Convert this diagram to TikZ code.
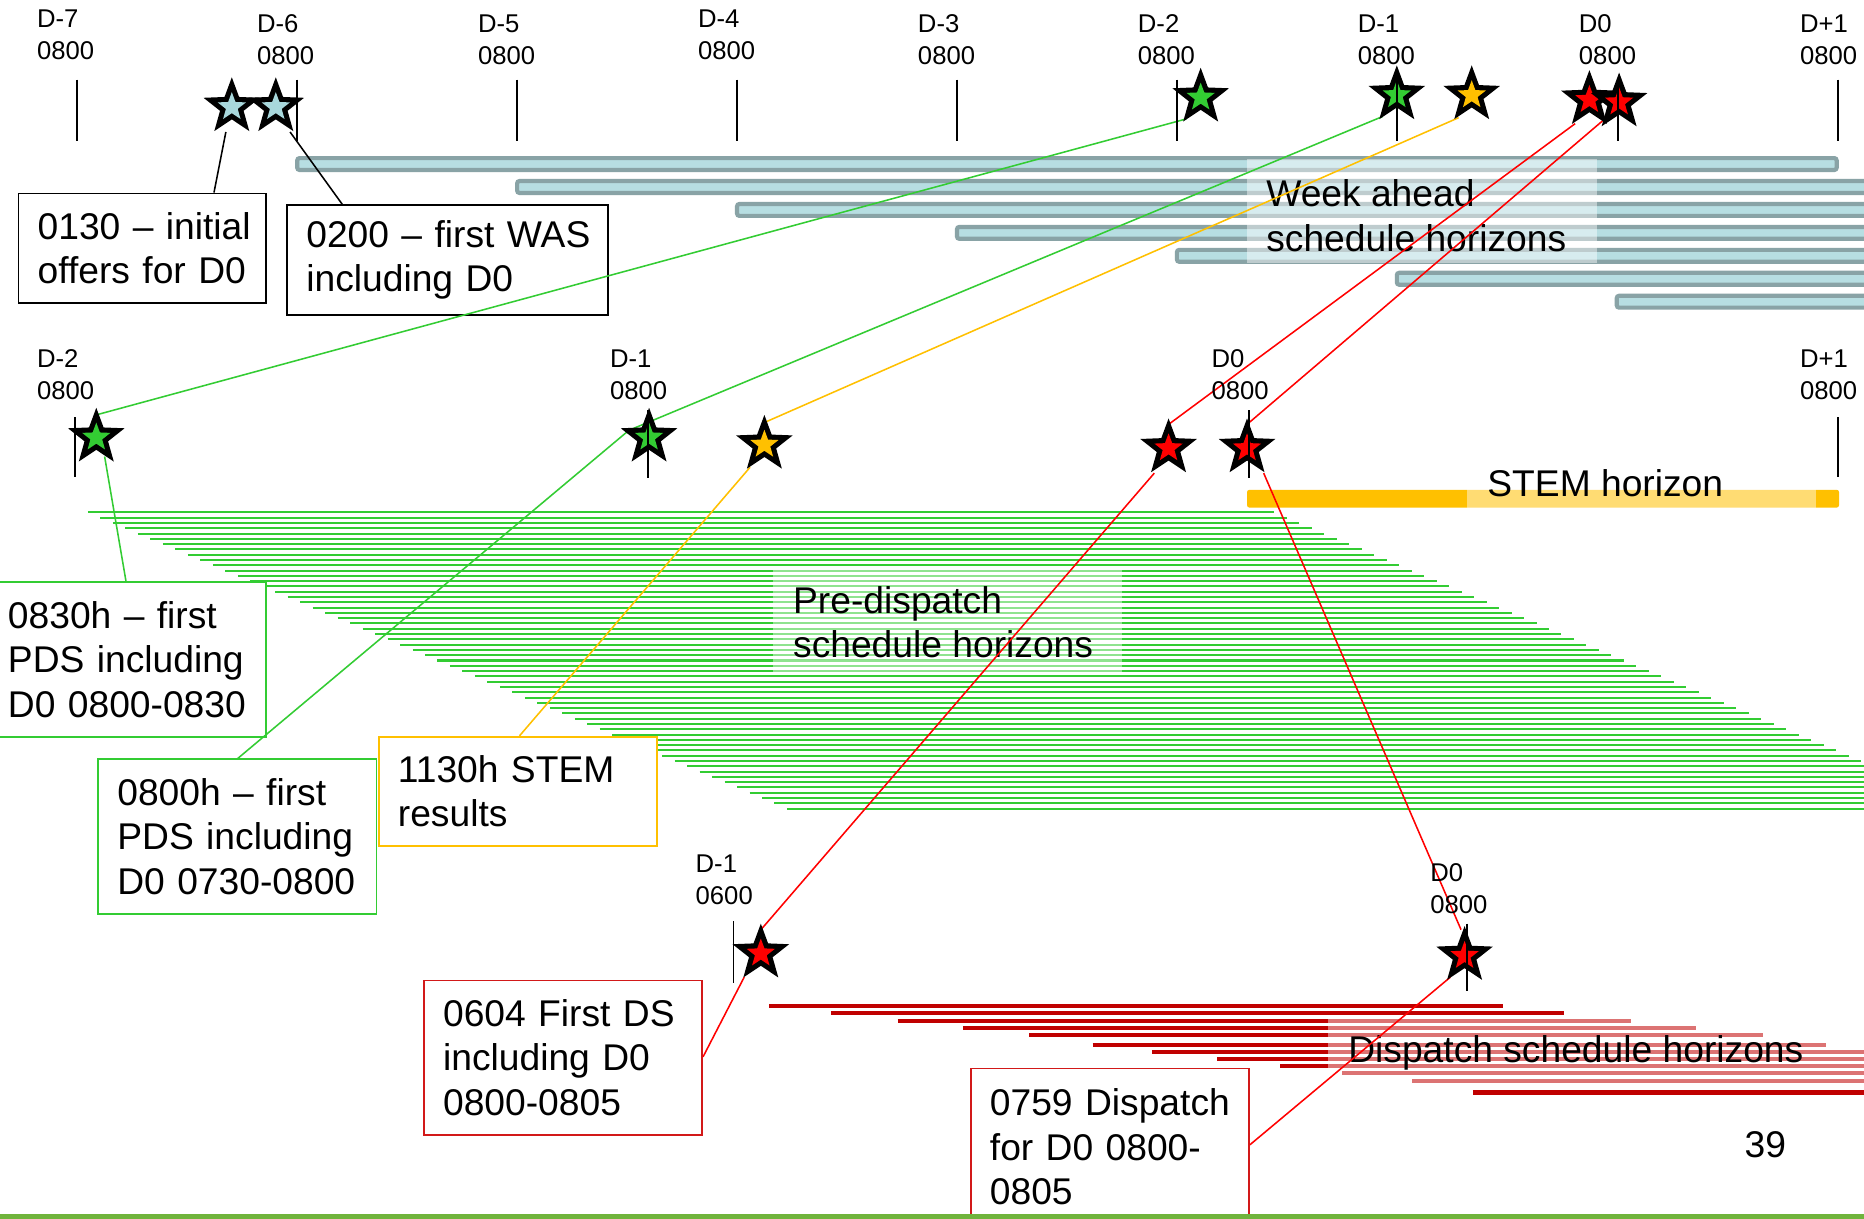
\documentclass[tikz,border=0pt]{standalone}
\usepackage{fontspec}
\setmainfont{Liberation Sans}
\usetikzlibrary{shapes.geometric,calc}
\definecolor{wafill}{RGB}{183,222,226}
\definecolor{waedge}{RGB}{137,163,166}
\definecolor{pdgreen}{RGB}{51,204,51}
\definecolor{stemy}{RGB}{255,192,0}
\definecolor{dsred}{RGB}{192,0,0}
\definecolor{lnred}{RGB}{255,0,0}
\definecolor{boxred}{RGB}{210,25,25}
\definecolor{starblue}{RGB}{168,216,220}
\definecolor{footgreen}{RGB}{112,180,60}
\newcommand{\lblfont}{\fontsize{21.6pt}{27pt}\selectfont}
\newcommand{\boxfont}{\fontsize{31.3pt}{37.5pt}\selectfont}
\newcommand{\oneline}[1]{\mbox{#1}}
\tikzset{
  tickline/.style={line width=1.6pt, black},
  tlabel/.style={anchor=north west, inner sep=0pt, align=left, font=\lblfont},
  wabar/.style={draw=waedge, fill=wafill, line width=3.5pt, rounded corners=2pt},
  pdsline/.style={pdgreen, line width=1.7pt},
  dsline/.style={dsred, line width=3.4pt},
  veil/.style={fill=white, fill opacity=0.45},
  bigtext/.style={anchor=north west, inner sep=0pt, align=left, font=\boxfont},
  callout/.style={fill=white, line width=1.4pt, anchor=north west, align=left, font=\boxfont, inner xsep=16pt, inner ysep=0pt},
  conn/.style={line width=1.3pt},
  bstar/.style={star, star points=5, star point ratio=2.4, fill=black, minimum size=50pt, inner sep=0pt},
  cstar/.style={star, star points=5, star point ratio=2.4, minimum size=25pt, inner sep=0pt},
}
\begin{document}
\begin{tikzpicture}[x=1pt,y=-1pt]
\useasboundingbox (0,0) rectangle (1568,1025);
\clip (0,0) rectangle (1568,1025);
\fill[white] (0,0) rectangle (1568,1025);

% week ahead bars
\foreach \i in {0,...,6}
  \draw[wabar] ({250+185*\i},{138+19.3*\i-5}) rectangle ({1545+185*\i},{138+19.3*\i+5});

% STEM bar
\fill[stemy, rounded corners=2pt] (1049,412) rectangle (1547,427);

% pre-dispatch lines
\foreach \i in {0,...,56}
  \draw[pdsline] ({74+10.5*\i},{431+4.45*\i}) -- ++(998,0);

% dispatch lines
\foreach \x/\y in {647/846, 699/852, 755/859, 810/865, 866/871, 919/879, 969/885, 1024/891, 1077/897, 1129/903, 1188/909, 1239/919}
  \draw[dsline] (\x,\y) -- ++(617,0);

% veils and labels
\fill[veil] (1049,134) rectangle (1343,221);
\node[bigtext] (wal) at (1065,151) {Week ahead\\schedule horizons};
\fill[veil] (650,477) rectangle (944,566);
\node[bigtext] (pdl) at (667,493) {Pre-dispatch\\schedule horizons};
\fill[veil] (1234,385) rectangle (1528,432);
\node[bigtext] (stl) at (1251,395) {STEM horizon};
\fill[veil] (1117,856) rectangle (1600,912);
\node[bigtext] (dsl) at (1134,871) {Dispatch schedule horizons};

% callout boxes
\node[callout, draw=black, text width=176pt, minimum height=92pt] (b0130) at (15,162) {\oneline{0130 – initial}\\\oneline{offers for D0}};
\node[callout, draw=black, text width=238pt, minimum height=92pt] (b0200) at (241,172) {\oneline{0200 – first WAS}\\\oneline{including D0}};
\node[callout, draw=pdgreen, text width=201pt, minimum height=130pt] (b0830) at (-10,489) {\oneline{0830h – first}\\\oneline{PDS including}\\\oneline{D0 0800-0830}};
\node[callout, draw=pdgreen, text width=202pt, minimum height=130pt] (b0800) at (82,638) {\oneline{0800h – first}\\\oneline{PDS including}\\\oneline{D0 0730-0800}};
\node[callout, draw=stemy, text width=202pt, minimum height=92pt] (b1130) at (318,619) {\oneline{1130h STEM}\\\oneline{results}};
\node[callout, draw=boxred, text width=202pt, minimum height=130pt] (b0604) at (356,824) {\oneline{0604 First DS}\\\oneline{including D0}\\\oneline{0800-0805}};
\node[callout, draw=boxred, text width=202pt, minimum height=132pt] (b0759) at (816,898) {\oneline{0759 Dispatch}\\\oneline{for D0 0800-}\\\oneline{0805}};

% star anchor nodes (invisible, used by the connectors)
\begin{scope}[opacity=0]
\node[bstar] (tb1) at (195,90) {};
\node[bstar] (tb2) at (232,90) {};
\node[bstar] (tg1) at (1010,82) {};
\node[bstar] (tg2) at (1175,80) {};
\node[bstar] (ty) at (1238,80) {};
\node[bstar] (tr1) at (1337,84) {};
\node[bstar] (tr2) at (1362,86) {};
\node[bstar] (mg1) at (81,368) {};
\node[bstar] (mg2) at (546,368) {};
\node[bstar] (my) at (643,374) {};
\node[bstar] (mr1) at (983,377) {};
\node[bstar] (mr2) at (1049,377) {};
\node[bstar] (br1) at (640,802) {};
\node[bstar] (br2) at (1232,804) {};
\end{scope}

% connectors
\draw[conn, black] ($(tb1.center)+(-5,21)$) -- ($(b0130.north west)+(165,0)$);
\draw[conn, black] ($(tb2.center)+(12,21)$) -- ($(b0200.north west)+(47,0)$);
\draw[conn, pdgreen] ($(tg1.center)+(-12,18)$) -- ($(mg1.center)+(0,-19)$);
\draw[conn, pdgreen] ($(mg1.center)+(7,16)$) -- ($(b0830.north west)+(116,0)$);
\draw[conn, pdgreen] ($(tg2.center)+(-12,18)$) -- ($(mg2.center)+(-17,-6)$) -- ($(b0800.north west)+(118,0)$);
\draw[conn, stemy] ($(ty.center)+(-11,19)$) -- ($(my.center)+(1,-19)$);
\draw[conn, stemy] ($(my.center)+(-12,19)$) -- ($(b1130.north west)+(119,0)$);
\draw[conn, lnred] ($(tr1.center)+(-12,20)$) -- ($(mr1.center)+(0,-20)$);
\draw[conn, lnred] ($(tr2.center)+(-12,14)$) -- ($(mr2.center)+(0,-20)$);
\draw[conn, lnred] ($(mr1.center)+(-12,21)$) -- ($(br1.center)+(1,-21)$);
\draw[conn, lnred] ($(br1.center)+(-14,20)$) -- ($(b0604.north east)+(0,65)$);
\draw[conn, lnred] ($(mr2.center)+(14,21)$) -- ($(br2.center)+(-3,-22)$);
\draw[conn, lnred] ($(br2.center)+(-12,18)$) -- ($(b0759.north east)+(0,65)$);

% visible stars
\node[bstar] (vtb1) at (tb1) {}; \node[cstar, fill=starblue] (vtb1i) at (tb1) {};
\node[bstar] (vtb2) at (tb2) {}; \node[cstar, fill=starblue] (vtb2i) at (tb2) {};
\node[bstar] (vtg1) at (tg1) {}; \node[cstar, fill=pdgreen] (vtg1i) at (tg1) {};
\node[bstar] (vtg2) at (tg2) {}; \node[cstar, fill=pdgreen] (vtg2i) at (tg2) {};
\node[bstar] (vty) at (ty) {}; \node[cstar, fill=stemy] (vtyi) at (ty) {};
\node[bstar] (vtr1) at (tr1) {}; \node[cstar, fill=lnred] (vtr1i) at (tr1) {};
\node[bstar] (vtr2) at (tr2) {}; \node[cstar, fill=lnred] (vtr2i) at (tr2) {};
\node[bstar] (vmg1) at (mg1) {}; \node[cstar, fill=pdgreen] (vmg1i) at (mg1) {};
\node[bstar] (vmg2) at (mg2) {}; \node[cstar, fill=pdgreen] (vmg2i) at (mg2) {};
\node[bstar] (vmy) at (my) {}; \node[cstar, fill=stemy] (vmyi) at (my) {};
\node[bstar] (vmr1) at (mr1) {}; \node[cstar, fill=lnred] (vmr1i) at (mr1) {};
\node[bstar] (vmr2) at (mr2) {}; \node[cstar, fill=lnred] (vmr2i) at (mr2) {};
\node[bstar] (vbr1) at (br1) {}; \node[cstar, fill=lnred] (vbr1i) at (br1) {};
\node[bstar] (vbr2) at (br2) {}; \node[cstar, fill=lnred] (vbr2i) at (br2) {};

% ticks
\foreach \x in {65,250,435,620,805,990,1175,1361,1546}
  \draw[tickline] (\x,67) -- (\x,119);
\draw[tickline] (63,351) -- (63,401);
\draw[tickline] (545,345) -- (545,402);
\draw[tickline] (1051,345) -- (1051,402);
\draw[tickline] (1546,351) -- (1546,401);
\draw[tickline] (617,775) -- (617,827);
\draw[tickline] (1234,777) -- (1234,834);

% tick labels
\node[tlabel] (lt1) at (31,8) {D-7\\0800};
\node[tlabel] (lt2) at (216,12) {D-6\\0800};
\node[tlabel] (lt3) at (402,12) {D-5\\0800};
\node[tlabel] (lt4) at (587,8) {D-4\\0800};
\node[tlabel] (lt5) at (772,12) {D-3\\0800};
\node[tlabel] (lt6) at (957,12) {D-2\\0800};
\node[tlabel] (lt7) at (1142,12) {D-1\\0800};
\node[tlabel] (lt8) at (1328,12) {D0\\0800};
\node[tlabel] (lt9) at (1514,12) {D+1\\0800};
\node[tlabel] (lm1) at (31,294) {D-2\\0800};
\node[tlabel] (lm2) at (513,294) {D-1\\0800};
\node[tlabel] (lm3) at (1019,294) {D0\\0800};
\node[tlabel] (lm4) at (1514,294) {D+1\\0800};
\node[tlabel] (lb1) at (585,719) {D-1\\0600};
\node[tlabel] (lb2) at (1203,726) {D0\\0800};

% page number and footer
\node[font=\boxfont, inner sep=0pt] (pgno) at (1485,963) {39};
\fill[footgreen] (0,1021) rectangle (1568,1026);
\end{tikzpicture}
\end{document}
